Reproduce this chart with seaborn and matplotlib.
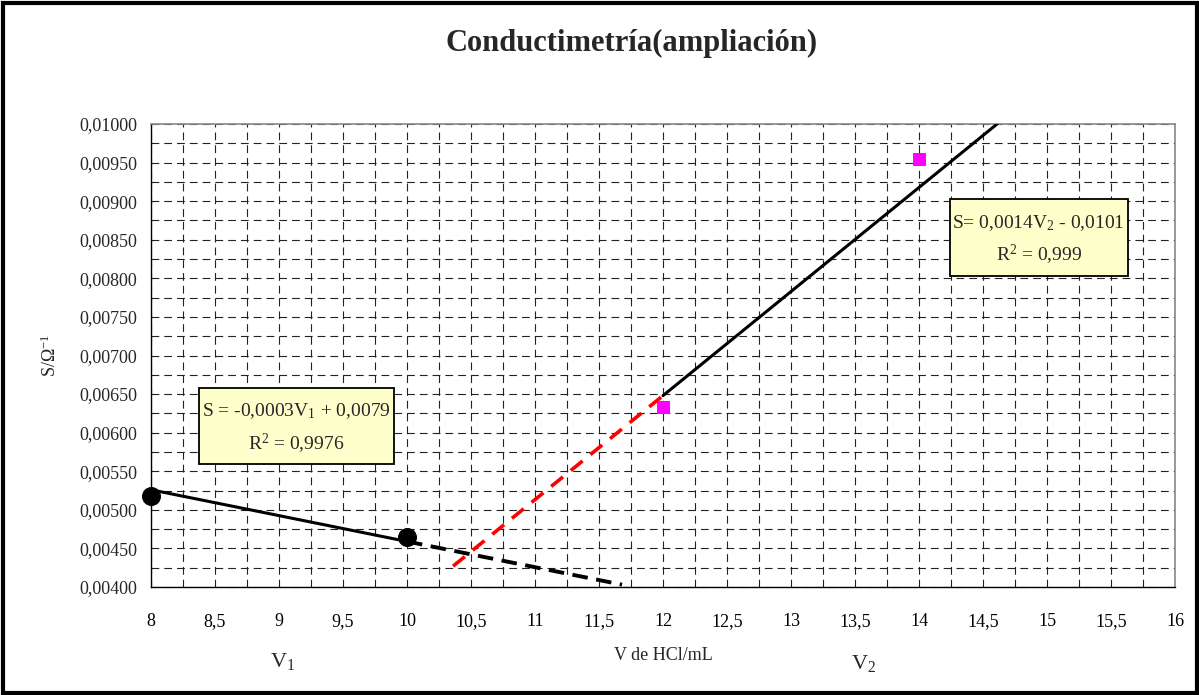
import numpy as np
import pandas as pd
import seaborn as sns
from matplotlib import pyplot as plt
from matplotlib.patches import Rectangle
from matplotlib.ticker import FixedLocator, FixedFormatter, MultipleLocator

# Measured points (V HCl in mL, conductance in S)
v_before = [8, 10]
s_before = [0.00518, 0.00465]
v_after = [12, 14]
s_after = [0.00633, 0.00955]

# Trend lines, end points
fit1_v = [8, 10]
fit1_s = [0.00526, 0.00459]
ext1_v = [10, 11.68]
ext1_s = [0.00459, 0.00403]
fit2_v = [12, 14.61]
fit2_s = [0.00648, 0.01000]
ext2_v = [10.36, 12]
ext2_s = [0.00427, 0.00648]

x_ticks = [8, 8.5, 9, 9.5, 10, 10.5, 11, 11.5, 12, 12.5, 13, 13.5, 14, 14.5, 15, 15.5, 16]
x_labels = ['8', '8,5', '9', '9,5', '10', '10,5', '11', '11,5', '12', '12,5', '13', '13,5',
            '14', '14,5', '15', '15,5', '16']
y_ticks = [0.004, 0.0045, 0.005, 0.0055, 0.006, 0.0065, 0.007, 0.0075, 0.008, 0.0085, 0.009,
           0.0095, 0.01]
y_labels = ['0,00400', '0,00450', '0,00500', '0,00550', '0,00600', '0,00650', '0,00700',
            '0,00750', '0,00800', '0,00850', '0,00900', '0,00950', '0,01000']

eq1 = 'S = -0,0003V$_{1}$ + 0,0079'
r1 = 'R$^{2}$ = 0,9976'
eq2 = 'S= 0,0014V$_{2}$ - 0,0101'
r2 = 'R$^{2}$ = 0,999'

sns.set_style('white')
plt.rcParams['font.family'] = ['Liberation Serif', 'DejaVu Serif']
plt.rcParams['mathtext.fontset'] = 'custom'
plt.rcParams['mathtext.rm'] = 'Liberation Serif'
plt.rcParams['mathtext.it'] = 'Liberation Serif'

fig = plt.figure(figsize=(11.99, 6.95), dpi=100)
ax = fig.add_axes([151 / 1199, 1 - 587 / 695, 1024 / 1199, 463 / 695])

grid_kw = dict(color='#222222', lw=0.8, linestyle=(0, (7, 4.5)))
ax.set_axisbelow(True)
ax.xaxis.set_minor_locator(MultipleLocator(0.25))
ax.yaxis.set_minor_locator(MultipleLocator(0.00025))
ax.grid(True, which='both', **grid_kw)

# lines
sns.lineplot(x=fit1_v, y=fit1_s, ax=ax, color='black', lw=2.2, zorder=3)
sns.lineplot(x=ext1_v, y=ext1_s, ax=ax, color='black', lw=2.8, zorder=3)
ax.lines[-1].set_linestyle((0, (4, 2.2)))
sns.lineplot(x=ext2_v, y=ext2_s, ax=ax, color='#FF0000', lw=2.6, zorder=3)
ax.lines[-1].set_linestyle((0, (4.2, 2.8)))
sns.lineplot(x=fit2_v, y=fit2_s, ax=ax, color='black', lw=2.2, zorder=3)

# points
sns.scatterplot(x=v_before, y=s_before, ax=ax, color='black', marker='o', s=160,
                edgecolor='black', zorder=5, clip_on=False)
sns.scatterplot(x=v_after, y=s_after, ax=ax, color='#FF00FF', marker='s', s=85,
                edgecolor='#FF00FF', zorder=5, clip_on=False)

ax.set_xlim(8, 16)
ax.set_ylim(0.004, 0.01)
ax.xaxis.set_major_locator(FixedLocator(x_ticks))
ax.xaxis.set_major_formatter(FixedFormatter(x_labels))
ax.yaxis.set_major_locator(FixedLocator(y_ticks))
ax.yaxis.set_major_formatter(FixedFormatter(y_labels))
ax.tick_params(axis='x', which='major', direction='inout', length=9, width=0.8,
               labelsize=13, pad=14, colors='black')
ax.tick_params(axis='x', which='minor', direction='in', length=3, width=0.8)
ax.tick_params(axis='y', which='major', direction='out', length=6, width=0.8,
               labelsize=13, pad=4)
ax.tick_params(axis='y', which='minor', length=0)

for side in ['left', 'bottom']:
    ax.spines[side].set_color('black')
    ax.spines[side].set_linewidth(1.0)
for side in ['top', 'right']:
    ax.spines[side].set_color('#888888')
    ax.spines[side].set_linewidth(1.2)

ax.set_ylabel(r'S/$\Omega^{-1}$', fontsize=13, labelpad=14)
ax.set_xlabel('')

# equation boxes
ax.add_patch(Rectangle((8.375, 0.005594), 1.525, 0.000985, fc='#FFFFCC', ec='black',
                       lw=1.3, zorder=6))
ax.text(9.137, 0.006285, eq1, ha='center', va='center', fontsize=14, zorder=7)
ax.text(9.137, 0.005855, r1, ha='center', va='center', fontsize=14, zorder=7)
ax.add_patch(Rectangle((14.24, 0.00803), 1.39, 0.000999, fc='#FFFFCC', ec='black',
                       lw=1.3, zorder=6))
ax.text(14.935, 0.00872, eq2, ha='center', va='center', fontsize=14, zorder=7)
ax.text(14.935, 0.00830, r2, ha='center', va='center', fontsize=14, zorder=7)

fig.text(632 / 1199, 1 - 43 / 695, 'Conductimetría(ampliación)', ha='center', va='center',
         fontsize=22, fontweight='bold')
fig.text(663 / 1199, 1 - 655 / 695, 'V de HCl/mL', ha='center', va='center', fontsize=13)
fig.text(283 / 1199, 1 - 662 / 695, 'V$_{1}$', ha='center', va='center', fontsize=16)
fig.text(864 / 1199, 1 - 664 / 695, 'V$_{2}$', ha='center', va='center', fontsize=16)

fig.patches.append(Rectangle((2.5 / 1199, 2.5 / 695), 1194 / 1199, 690 / 695,
                             transform=fig.transFigure, fill=False, ec='black', lw=3))

fig.savefig('out.png', dpi=100)
